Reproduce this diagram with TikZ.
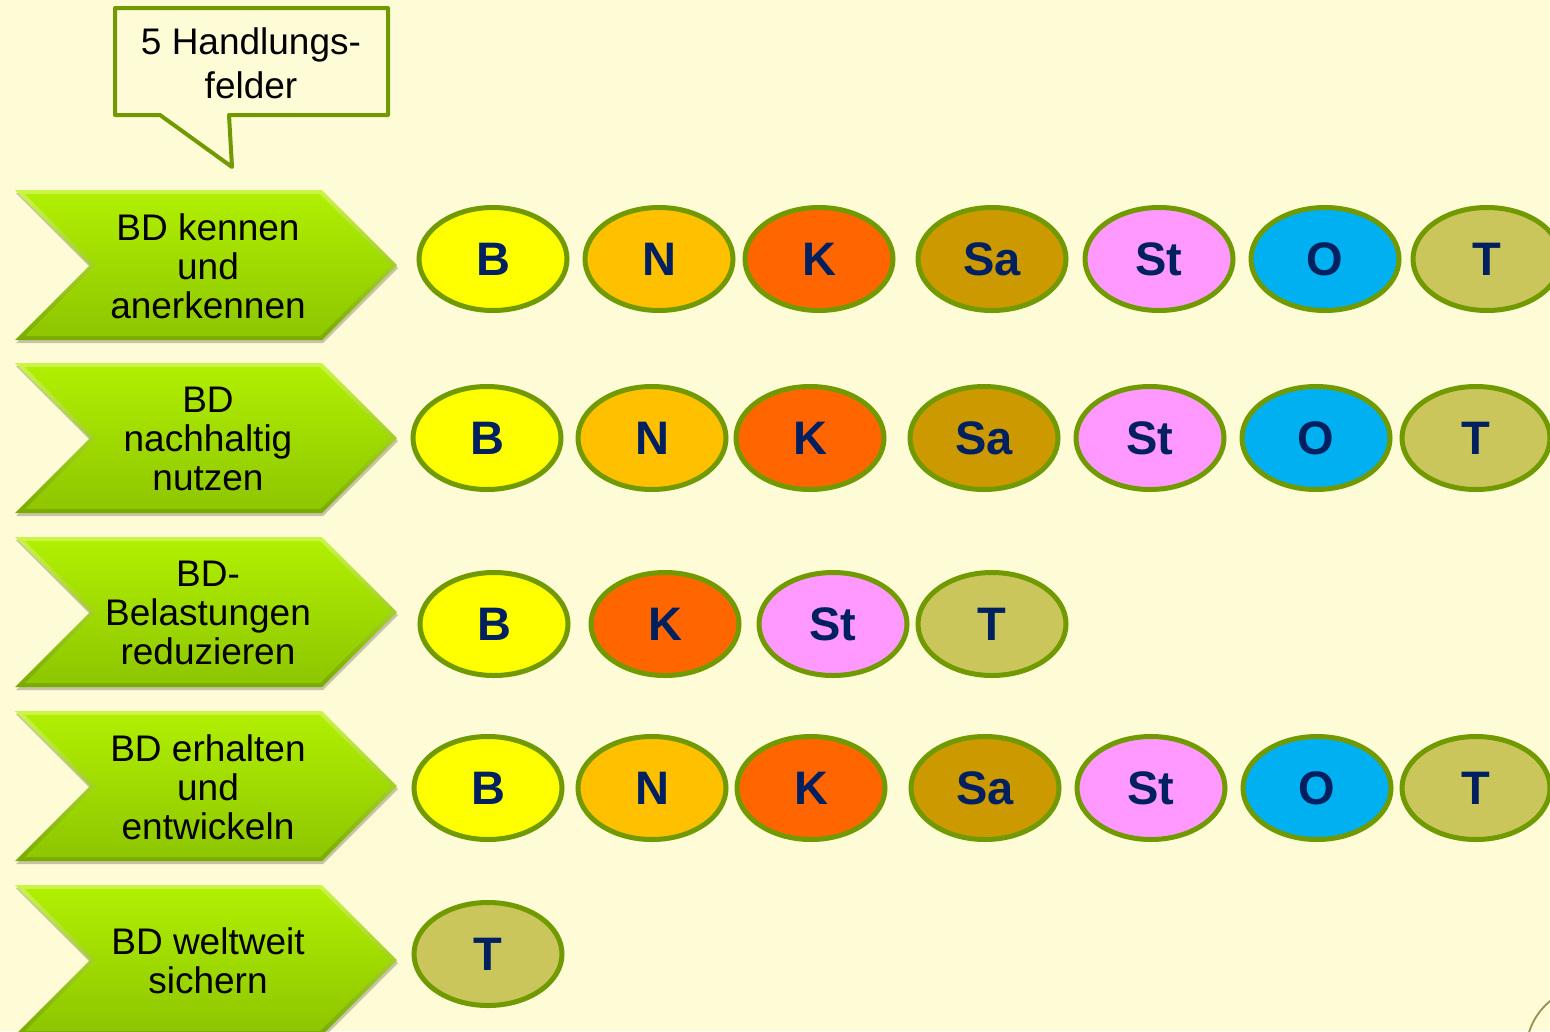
\documentclass[tikz,border=0pt]{standalone}
\usepackage{fontspec}
\setmainfont{Liberation Sans}
\usetikzlibrary{shapes.geometric}

\definecolor{paper}{HTML}{FEFBD7}
\definecolor{rim}{HTML}{709A00}
\definecolor{ink}{HTML}{002060}
\definecolor{cB}{HTML}{FFFF00}
\definecolor{cN}{HTML}{FFC000}
\definecolor{cK}{HTML}{FF6600}
\definecolor{cSa}{HTML}{CC9900}
\definecolor{cSt}{HTML}{FF99FF}
\definecolor{cO}{HTML}{00B0F0}
\definecolor{cT}{HTML}{CBC65B}
\definecolor{chevtop}{HTML}{B0EF02}
\definecolor{chevbot}{HTML}{8EC600}
\definecolor{bevlight}{HTML}{CCF54A}
\definecolor{bevdark}{HTML}{78AA00}

\tikzset{
  tag/.style={ellipse, draw=rim, line width=5pt, minimum width=148pt,
    minimum height=103pt, inner sep=0pt, text=ink,
    font=\fontsize{47}{50}\selectfont\bfseries},
  chevtext/.style={align=center, text=black, font=\fontsize{37}{39}\selectfont},
  calltext/.style={align=center, text=black, font=\fontsize{37}{44}\selectfont},
}

% chevron outline (outer) and inner face, top edge at y = #1
\newcommand\chevouter[1]{(15,#1) -- (322,#1) -- (397,#1+75) -- (322,#1+150) -- (15,#1+150) -- (90,#1+75) -- cycle}
\newcommand\chevinner[1]{(25,#1+4) -- (320,#1+4) -- (391,#1+75) -- (320,#1+146) -- (25,#1+146) -- (96,#1+75) -- cycle}

\begin{document}
\begin{tikzpicture}[x=1pt,y=-1pt]
  \useasboundingbox (0,0) rectangle (1550,1031);
  \clip (0,0) rectangle (1550,1031);
  \fill[paper] (0,0) rectangle (1550,1031);

  % callout
  \draw[rim, line width=4pt, line join=round, fill=paper]
    (115,8) -- (388,8) -- (388,115) -- (229,115) -- (232,167) -- (160,115) -- (115,115) -- cycle;
  \node[calltext] (callout) at (251,63) {5 Handlungs-\\felder};

  % chevrons with labels
  \foreach \y/\lbl/\nm in {190/{BD kennen\\und\\anerkennen}/f1,
                           363/{BD\\nachhaltig\\nutzen}/f2,
                           537/{BD-\\Belastungen\\reduzieren}/f3,
                           711/{BD erhalten\\und\\entwickeln}/f4,
                           885/{BD weltweit\\sichern}/f5} {
    \fill[black, opacity=0.22] [shift={(1,3)}] \chevouter{\y};
    \shade[top color=bevlight, bottom color=bevdark] \chevouter{\y};
    \shade[top color=chevtop, bottom color=chevbot] \chevinner{\y};
    \node[chevtext] (\nm) at (208,\y+76) {\lbl};
  }

  % row 1
  \foreach \x/\c/\t in {493/cB/B, 659/cN/N, 819/cK/K, 992/cSa/Sa, 1159/cSt/St, 1325/cO/O, 1487/cT/T}
    \node[tag, fill=\c] (a\t) at (\x,259) {\t};
  % row 2
  \foreach \x/\c/\t in {487/cB/B, 652/cN/N, 810/cK/K, 984/cSa/Sa, 1150/cSt/St, 1316/cO/O, 1476/cT/T}
    \node[tag, fill=\c] (b\t) at (\x,438) {\t};
  % row 3
  \foreach \x/\c/\t in {494/cB/B, 665/cK/K, 833/cSt/St, 992/cT/T}
    \node[tag, fill=\c] (c\t) at (\x,624) {\t};
  % row 4
  \foreach \x/\c/\t in {488/cB/B, 652/cN/N, 811/cK/K, 985/cSa/Sa, 1151/cSt/St, 1317/cO/O, 1476/cT/T}
    \node[tag, fill=\c] (d\t) at (\x,788) {\t};
  % row 5
  \node[tag, fill=cT] (eT) at (488,954) {T};

  % partial seal in the corner
  \draw[color=black!35!olive!70, line width=1.8pt] (1592,1052) circle (66);
\end{tikzpicture}
\end{document}
